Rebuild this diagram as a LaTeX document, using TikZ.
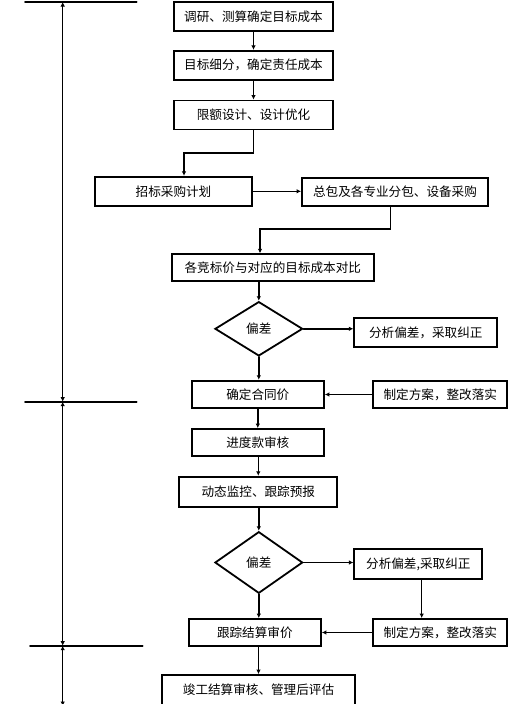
\documentclass[tikz,border=0pt]{standalone}
\usepackage{fontspec}
\setmainfont{Noto Sans CJK SC}
\usetikzlibrary{arrows.meta,shapes.geometric}

\begin{document}
\begin{tikzpicture}[x=1pt,y=-1pt,line cap=round,
        >={Latex[length=4.5pt,width=4.5pt]},
        box/.style={draw,line width=1.8pt,inner sep=0pt,minimum width=159pt,minimum height=29pt,font=\fontsize{12.6}{15}\selectfont},
        chk/.style={diamond,draw,line width=1.8pt,inner sep=0pt,minimum width=87.7pt,font=\fontsize{12.6}{15}\selectfont},
        flow/.style={->,line width=1.5pt}]
        \useasboundingbox (0,0) rectangle (517,704);
        \node[box] (survey) at (253.5,16.5) {调研、测算确定目标成本};
        \node[box] (split) at (253.5,65.3) {目标细分，确定责任成本};
        \node[box] (limit) at (253.5,115) {限额设计、设计优化};
        \node[box,minimum width=157pt] (plan) at (173.5,191.3) {招标采购计划};
        \node[box,minimum width=186pt,minimum height=28.5pt] (proc) at (395,192) {总包及各专业分包、设备采购};
        \node[box,minimum width=202pt,minimum height=27pt] (bid) at (272.8,267.7) {各竞标价与对应的目标成本对比};
        \node[chk,minimum height=54.3pt] (devA) at (258.8,328.8) {偏差};    % first check
        \node[box,minimum width=143pt,minimum height=29.6pt] (anaA) at (425.8,332.5) {分析偏差，采取纠正};
        \node[box,minimum width=132.3pt,minimum height=27.6pt] (contract) at (257.8,394.5) {确定合同价};
        \node[box,minimum width=134pt,minimum height=27.6pt] (fixA) at (440.3,394.5) {制定方案，整改落实};
        \node[box,minimum width=132.3pt,minimum height=27pt] (pay) at (257.8,442.5) {进度款审核};
        \node[box,minimum width=158pt,minimum height=30.6pt] (watch) at (258.3,492) {动态监控、跟踪预报};
        \node[chk,minimum height=61.6pt] (devB) at (258.8,562.5) {偏差};    % second check
        \node[box,minimum width=128pt,minimum height=29.7pt] (anaB) at (418.3,564.2) {分析偏差,采取纠正};
        \node[box,minimum width=132.3pt,minimum height=27pt] (settle) at (254.8,632.5) {跟踪结算审价};
        \node[box,minimum width=134pt,minimum height=27pt] (fixB) at (440.3,632.5) {制定方案，整改落实};
        \node[box,minimum width=193pt,minimum height=30pt] (final) at (258.5,690) {竣工结算审核、管理后评估};
        \draw[flow] (survey) -- (split);
        \draw[flow] (split) -- (limit);
        \draw[flow] (limit.south) -- ++(0,22.7) -| ([xshift=10.5pt]plan.north);
        \draw[flow] (plan.east) -- (plan.east -| proc.west);
        \draw[flow] ([xshift=-4.3pt]proc.south) -- ++(0,21.8) -| ([xshift=-12.8pt]bid.north);
        \draw[flow] (bid.south -| devA.north) -- (devA.north);
        \draw[flow] (devA.east) -- (devA.east -| anaA.west);
        \draw[flow] (devA.south) -- (devA.south |- contract.north);
        \draw[flow] (fixA.west) -- (contract.east);
        \draw[flow] (contract) -- (pay);
        \draw[flow] (pay.south -| watch.north) -- (watch.north);
        \draw[flow] (watch.south -| devB.north) -- (devB.north);
        \draw[flow] (devB.east) -- (devB.east -| anaB.west);
        \draw[flow] ([xshift=3.4pt]anaB.south) -- ([xshift=3.4pt]anaB.south |- fixB.north);
        \draw[flow] (fixB.west) -- (settle.east);
        \draw[flow] (devB.south) -- (devB.south |- settle.north);
        \draw[flow] (settle.south -| final.north) -- (final.north);
        % stage marks on the left
        \draw[line width=1.6pt] (25,2) -- (136.7,2);
        \draw[line width=1.6pt] (25,401.7) -- (136.7,401.7);
        \draw[line width=1.6pt] (30,645.7) -- (142.7,645.7);
        \coordinate (t1) at (62.7,2);
        \coordinate (t2) at (62.7,401.7);
        \coordinate (t3) at (62.7,645.7);
        \coordinate (t4) at (62.7,706);
        \draw[<->,line width=1.3pt] (t2) -- (t1);
        \draw[<->,line width=1.3pt] (t2) -- (t3);
        \draw[<->,line width=1.3pt] (t3) -- (t4);
\end{tikzpicture}
\end{document}
